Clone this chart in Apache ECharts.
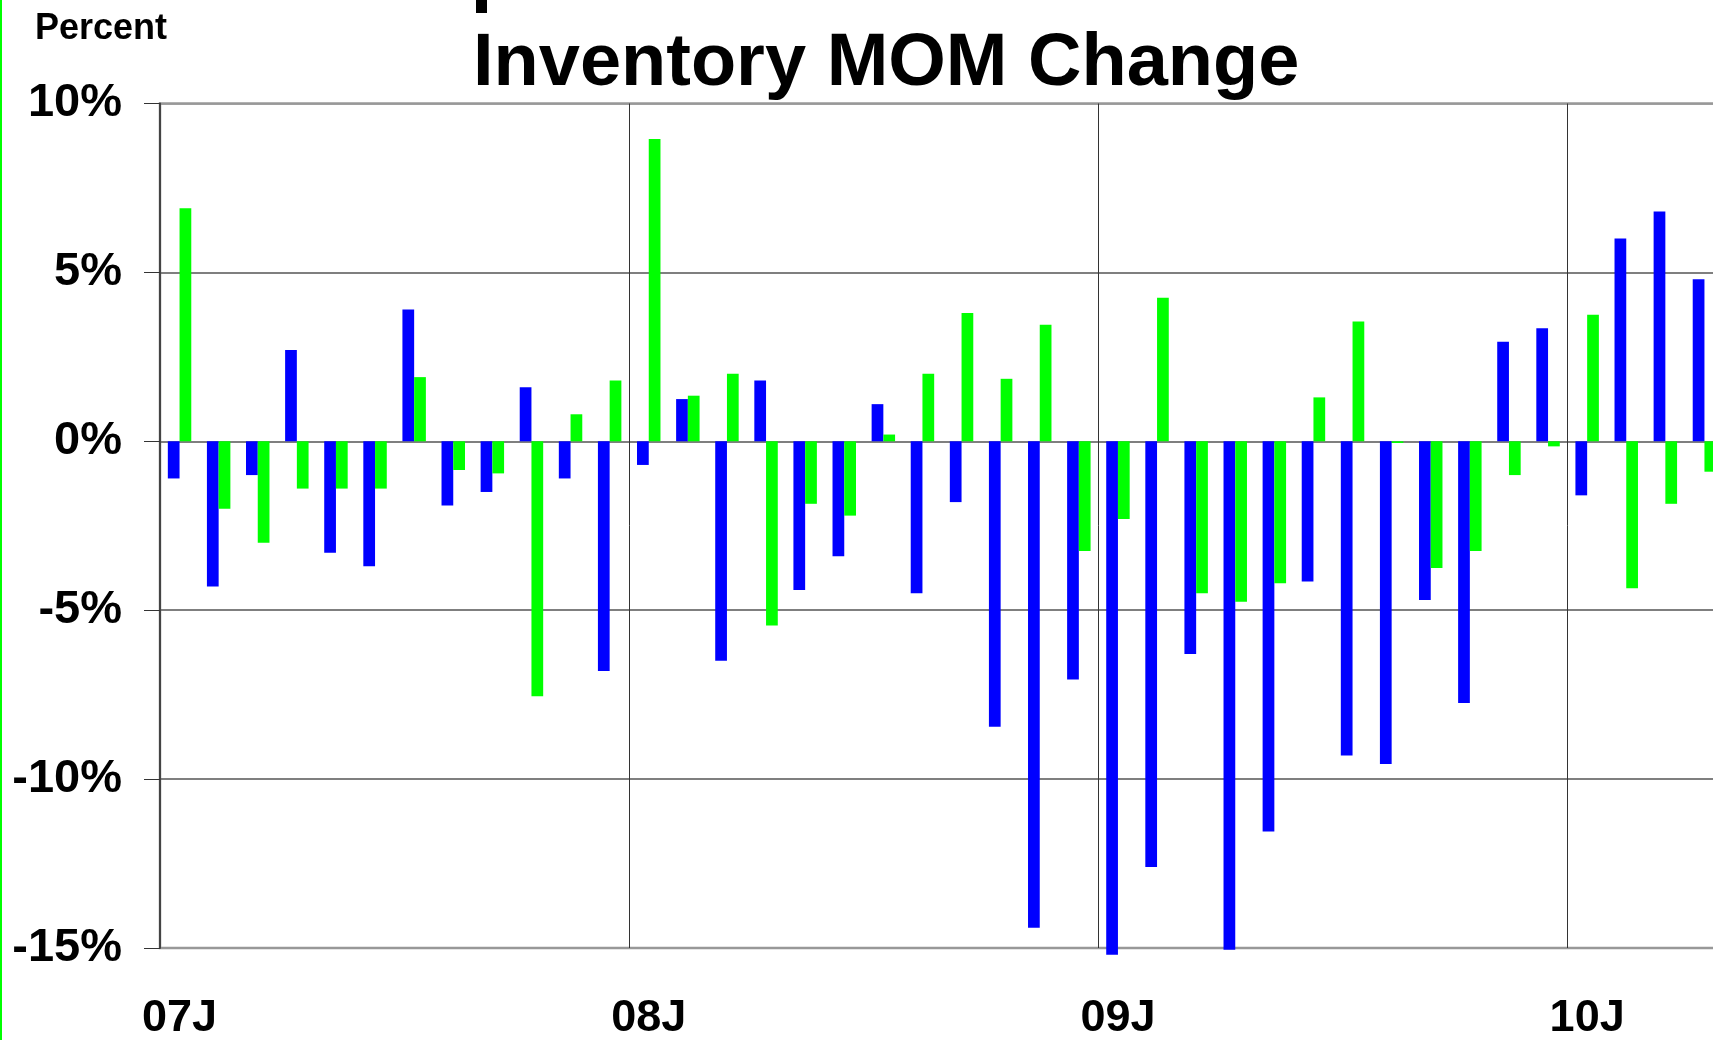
<!DOCTYPE html>
<html>
<head>
<meta charset="utf-8">
<title>Inventory MOM Change</title>
<script src="https://cdn.jsdelivr.net/npm/echarts@6/dist/echarts.min.js"></script>
<style>
  html, body { margin: 0; padding: 0; background: #fff; }
  #chart { width: 1713px; height: 1040px; }
</style>
</head>
<body>
<div id="chart"></div>
<script>
// months Jan 2007 .. Apr 2010
var months = [
  '07J','07F','07M','07A','07M','07J','07J','07A','07S','07O','07N','07D',
  '08J','08F','08M','08A','08M','08J','08J','08A','08S','08O','08N','08D',
  '09J','09F','09M','09A','09M','09J','09J','09A','09S','09O','09N','09D',
  '10J','10F','10M','10A'
];
var yearLabels = ['07J', '08J', '09J', '10J'];

// MOM change, percent
var blueValues = [
  -1.1, -4.3, -1.0, 2.7, -3.3, -3.7, 3.9, -1.9, -1.5, 1.6, -1.1, -6.8,
  -0.7, 1.25, -6.5, 1.8, -4.4, -3.4, 1.1, -4.5, -1.8, -8.45, -14.4, -7.05,
  -15.2, -12.6, -6.3, -15.05, -11.55, -4.15, -9.3, -9.55, -4.7, -7.75, 2.95, 3.35,
  -1.6, 6.0, 6.8, 4.8
];
var greenValues = [
  6.9, -2.0, -3.0, -1.4, -1.4, -1.4, 1.9, -0.85, -0.95, -7.55, 0.8, 1.8,
  8.95, 1.35, 2.0, -5.45, -1.85, -2.2, 0.2, 2.0, 3.8, 1.85, 3.45, -3.25,
  -2.3, 4.25, -4.5, -4.75, -4.2, 1.3, 3.55, -0.05, -3.75, -3.25, -1.0, -0.15,
  3.75, -4.35, -1.85, -0.9
];

var font = 'Liberation Sans, Arial, Helvetica, sans-serif';
var myChart = echarts.init(document.getElementById('chart'));

var option = {
  animation: false,
  backgroundColor: '#fff',
  title: [{
    text: 'Inventory MOM Change',
    left: 468,
    top: 23,
    textStyle: { fontFamily: font, fontSize: 74, fontWeight: 'bold', color: '#000' }
  }, {
    text: 'Percent',
    left: 30,
    top: 6,
    textStyle: { fontFamily: font, fontSize: 36, fontWeight: 'bold', color: '#000' }
  }],
  graphic: [{
    // green edge on the left of the picture
    type: 'rect',
    left: 0, top: 0,
    shape: { width: 2, height: 1040 },
    style: { fill: '#00ff00' }
  }, {
    // bit of a cut-off line above the title
    type: 'rect',
    left: 476, top: 0,
    shape: { width: 11, height: 13 },
    style: { fill: '#000' }
  }],
  grid: {
    left: 160,
    width: 1564, // runs past the right edge, as in the original
    top: 103.5,
    bottom: 92,
    outerBoundsMode: 'none',
    show: true,
    borderColor: '#999',
    borderWidth: 2.5
  },
  xAxis: {
    type: 'category',
    data: months,
    boundaryGap: true,
    axisLine: { show: false },
    axisTick: { show: false },
    axisLabel: {
      interval: 0,
      margin: 48,
      fontFamily: font,
      fontSize: 45,
      fontWeight: 'bold',
      color: '#000',
      formatter: function (v, i) {
        return i % 12 === 0 ? yearLabels[i / 12] : '';
      }
    },
    splitLine: {
      show: true,
      interval: function (i) { return i % 12 === 0; },
      lineStyle: { color: '#333', width: 1 }
    }
  },
  yAxis: {
    type: 'value',
    min: -15,
    max: 10,
    interval: 5,
    axisLine: { show: true, lineStyle: { color: '#444', width: 2 } },
    axisTick: { show: true, inside: false, length: 16, lineStyle: { color: '#333', width: 1 } },
    axisLabel: {
      margin: 38,
      fontFamily: font,
      fontSize: 47,
      fontWeight: 'bold',
      color: '#000',
      formatter: '{value}%'
    },
    splitLine: {
      show: true,
      lineStyle: { color: ['#999', '#555', '#555', '#555', '#555', '#999'], width: 1.5 }
    }
  },
  series: [{
    name: 'Blue',
    type: 'bar',
    data: blueValues,
    clip: false,
    barGap: '0%',
    barCategoryGap: '40%',
    itemStyle: { color: '#0000ff' }
  }, {
    name: 'Green',
    type: 'bar',
    data: greenValues,
    clip: false,
    barGap: '0%',
    barCategoryGap: '40%',
    itemStyle: { color: '#00ff00' }
  }]
};

myChart.setOption(option);
window.addEventListener('resize', function () {
  myChart.resize();
});
</script>
</body>
</html>
